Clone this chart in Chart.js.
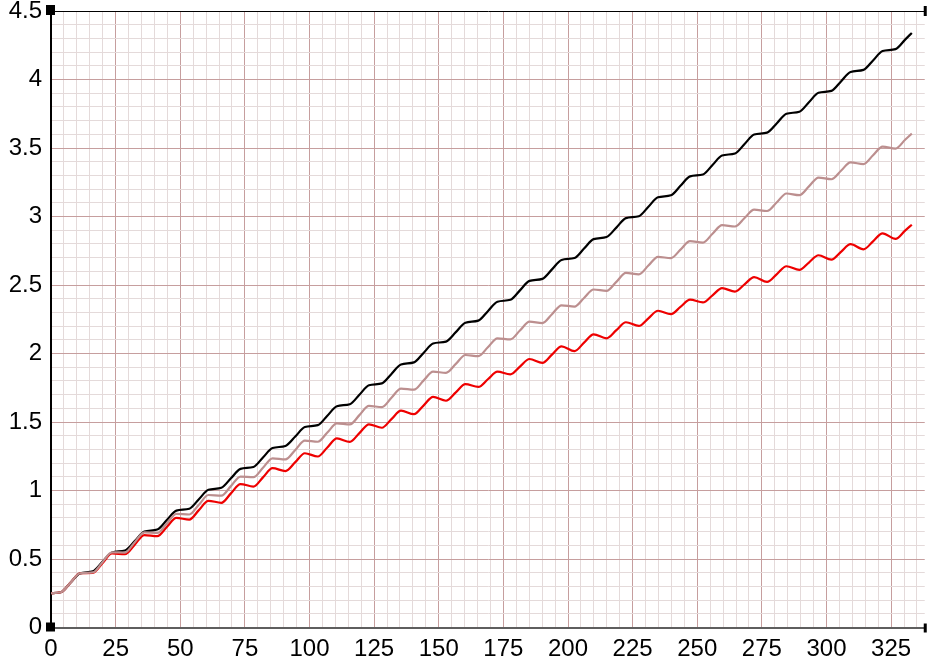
<!DOCTYPE html>
<html>
<head>
<meta charset="utf-8">
<script src="https://cdn.jsdelivr.net/npm/chart.js@4.4.1/dist/chart.umd.min.js"></script>
<style>
  html, body { margin: 0; padding: 0; background: #fff; }
  #wrap { width: 927px; height: 662px; }
</style>
</head>
<body>
<div id="wrap"><canvas id="levelChart" width="927" height="662"></canvas></div>
<script>
// hours along the bottom axis
const hours = [
  0, 3.8, 7.5,
  11.2, 16.2, 19.9, 23.6, 28.6, 32.4, 36.1, 41.1, 44.8,
  48.5, 53.5, 57.2, 60.9, 65.9, 69.6, 73.3, 78.3, 82.0,
  85.7, 90.7, 94.5, 98.2, 103.2, 106.9, 110.6, 115.6, 119.3,
  123.0, 128.0, 131.7, 135.4, 140.4, 144.1, 147.8, 152.8, 156.6,
  160.3, 165.3, 169.0, 172.7, 177.7, 181.4, 185.1, 190.1, 193.8,
  197.5, 202.5, 206.2, 209.9, 214.9, 218.7, 222.4, 227.4, 231.1,
  234.8, 239.8, 243.5, 247.2, 252.2, 255.9, 259.6, 264.6, 268.3,
  272.0, 277.0, 280.8, 284.5, 289.5, 293.2, 296.9, 301.9, 305.6,
  309.3, 314.3, 318.0, 321.7, 326.7, 330.4,
  333.0
];

const blackSeries = [
  0.25, 0.257, 0.326,
  0.395, 0.410, 0.479, 0.548, 0.562, 0.631, 0.700, 0.715, 0.784,
  0.853, 0.867, 0.936, 1.005, 1.020, 1.089, 1.158, 1.172, 1.241,
  1.310, 1.325, 1.394, 1.463, 1.477, 1.546, 1.615, 1.630, 1.699,
  1.768, 1.782, 1.851, 1.920, 1.935, 2.004, 2.073, 2.087, 2.156,
  2.225, 2.240, 2.309, 2.378, 2.392, 2.461, 2.530, 2.545, 2.614,
  2.683, 2.697, 2.766, 2.835, 2.850, 2.919, 2.988, 3.002, 3.071,
  3.140, 3.155, 3.224, 3.293, 3.307, 3.376, 3.445, 3.460, 3.529,
  3.598, 3.612, 3.681, 3.750, 3.765, 3.834, 3.903, 3.917, 3.986,
  4.055, 4.070, 4.139, 4.208, 4.222, 4.291,
  4.340
];

const rosySeries = [
  0.25, 0.257, 0.326,
  0.396, 0.402, 0.477, 0.549, 0.547, 0.623, 0.695, 0.690, 0.760,
  0.830, 0.825, 0.896, 0.967, 0.962, 1.032, 1.102, 1.097, 1.166,
  1.235, 1.227, 1.296, 1.364, 1.356, 1.423, 1.490, 1.482, 1.550,
  1.617, 1.609, 1.677, 1.744, 1.736, 1.802, 1.867, 1.859, 1.924,
  1.989, 1.981, 2.046, 2.111, 2.103, 2.168, 2.232, 2.222, 2.287,
  2.352, 2.342, 2.405, 2.467, 2.457, 2.523, 2.588, 2.578, 2.642,
  2.706, 2.696, 2.758, 2.820, 2.810, 2.874, 2.937, 2.927, 2.989,
  3.050, 3.040, 3.104, 3.168, 3.156, 3.220, 3.284, 3.272, 3.334,
  3.395, 3.383, 3.447, 3.510, 3.496, 3.560,
  3.605
];

const redSeries = [
  0.25, 0.257, 0.326,
  0.396, 0.398, 0.469, 0.540, 0.535, 0.605, 0.675, 0.667, 0.734,
  0.800, 0.788, 0.857, 0.925, 0.910, 0.979, 1.047, 1.029, 1.096,
  1.163, 1.142, 1.207, 1.272, 1.248, 1.314, 1.380, 1.355, 1.419,
  1.483, 1.458, 1.521, 1.583, 1.557, 1.620, 1.683, 1.655, 1.716,
  1.776, 1.756, 1.812, 1.868, 1.848, 1.904, 1.960, 1.932, 1.992,
  2.052, 2.017, 2.079, 2.140, 2.111, 2.170, 2.228, 2.201, 2.257,
  2.312, 2.287, 2.340, 2.393, 2.373, 2.425, 2.477, 2.452, 2.505,
  2.558, 2.523, 2.580, 2.637, 2.610, 2.664, 2.717, 2.685, 2.742,
  2.798, 2.760, 2.819, 2.877, 2.837, 2.897,
  2.940
];

const xTickLabels = [0, 25, 50, 75, 100, 125, 150, 175, 200, 225, 250, 275, 300, 325];
const yTickLabels = [0, 0.5, 1, 1.5, 2, 2.5, 3, 3.5, 4, 4.5];

const MAJOR = '#c69e9e';
const MINOR = '#e4dada';

function pts(ys) {
  return ys.map((y, i) => ({ x: hours[i], y: y }));
}

const cornerMarks = {
  id: 'cornerMarks',
  afterDraw(chart) {
    const a = chart.chartArea;
    const c = chart.ctx;
    c.save();
    c.fillStyle = '#000';
    c.fillRect(a.left - 5, a.top - 6, 9, 10);
    c.fillRect(a.left - 5, a.bottom - 5, 9, 9);
    c.fillRect(a.right - 1, a.top - 5, 3, 10);
    c.fillRect(a.right - 1, a.bottom - 4, 3, 9);
    c.restore();
  }
};

const ctx = document.getElementById('levelChart').getContext('2d');

const levelChart = new Chart(ctx, {
  type: 'line',
  data: {
    datasets: [
      { label: 'rosy', data: pts(rosySeries), borderColor: '#bc8f8f' },
      { label: 'red', data: pts(redSeries), borderColor: '#ee0000' },
      { label: 'black', data: pts(blackSeries), borderColor: '#000000' }
    ]
  },
  options: {
    responsive: false,
    devicePixelRatio: 1,
    animation: false,
    events: [],
    layout: { padding: { top: 11, right: 1, left: 0, bottom: 0 } },
    elements: {
      point: { radius: 0 },
      line: { borderWidth: 2.2, fill: false, cubicInterpolationMode: 'monotone' }
    },
    plugins: {
      legend: { display: false },
      tooltip: { enabled: false }
    },
    scales: {
      x: {
        type: 'linear',
        min: 0,
        max: 338,
        afterFit(scale) { scale.height = 34.5; },
        border: { color: '#5e5e5e', width: 2 },
        grid: {
          drawTicks: false,
          lineWidth: 1,
          color: (c) => (Math.round(c.tick.value) % 25 === 0 ? MAJOR : MINOR)
        },
        ticks: {
          stepSize: 5,
          includeBounds: false,
          autoSkip: false,
          maxRotation: 0,
          padding: 10,
          color: '#000',
          font: { family: "'Liberation Sans', Arial, sans-serif", size: 24, lineHeight: 1 },
          callback: (v) => (xTickLabels.includes(Math.round(v)) && Math.abs(v - Math.round(v)) < 1e-6 ? String(Math.round(v)) : '')
        }
      },
      y: {
        min: 0,
        max: 4.5,
        afterFit(scale) {
          scale.width = 51;
          scale.paddingTop = 0;
          scale.paddingBottom = 0;
        },
        border: { color: '#000', width: 2 },
        grid: {
          drawTicks: false,
          lineWidth: 1,
          color: (c) => {
            const t = Math.round(c.tick.value * 10);
            if (t === 45) return '#000';
            return t % 5 === 0 ? MAJOR : MINOR;
          }
        },
        ticks: {
          stepSize: 0.1,
          autoSkip: false,
          padding: 9,
          color: '#000',
          font: { family: "'Liberation Sans', Arial, sans-serif", size: 24, lineHeight: 0.2 },
          callback: (v) => {
            const r = Math.round(v * 10) / 10;
            return yTickLabels.includes(r) ? String(r) : '';
          }
        }
      }
    }
  },
  plugins: [cornerMarks]
});
</script>
</body>
</html>
